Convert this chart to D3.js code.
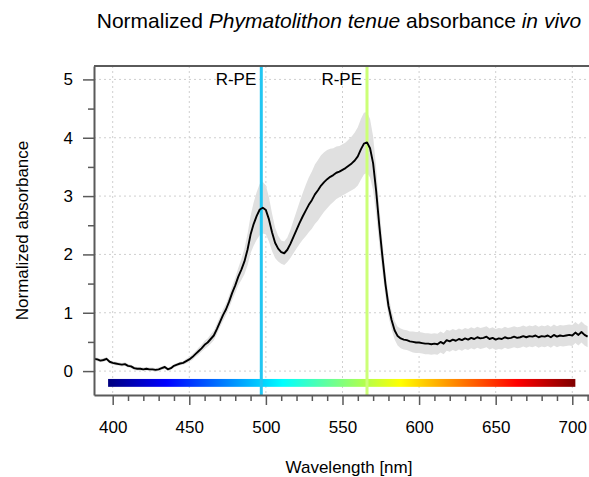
<!DOCTYPE html>
<html><head><meta charset="utf-8">
<script src="https://cdn.jsdelivr.net/npm/d3@7"></script>
<style>
html,body{margin:0;padding:0;background:#fff;}
svg{display:block;font-family:"Liberation Sans",Arial,sans-serif;}
</style></head>
<body><svg id="chart" width="589" height="477"></svg>
<script>
// ---- data ----
const wavelength = [388,390,392,394,396,398,400,402,404,406,408,410,412,414,416,418,420,422,424,426,428,430,432,434,436,438,440,442,444,446,448,450,452,454,456,458,460,462,464,466,468,470,472,474,476,478,480,482,484,486,488,490,492,494,496,498,500,502,504,506,508,510,512,514,516,518,520,522,524,526,528,530,532,534,536,538,540,542,544,546,548,550,552,554,556,558,560,562,564,566,568,570,572,574,576,578,580,582,584,586,588,590,592,594,596,598,600,602,604,606,608,610,612,614,616,618,620,622,624,626,628,630,632,634,636,638,640,642,644,646,648,650,652,654,656,658,660,662,664,666,668,670,672,674,676,678,680,682,684,686,688,690,692,694,696,698,700,702,704,706,708,710];
const absorbance = [0.21,0.20,0.18,0.19,0.21,0.16,0.14,0.13,0.12,0.11,0.12,0.09,0.08,0.05,0.04,0.04,0.03,0.04,0.03,0.03,0.02,0.03,0.05,0.07,0.03,0.05,0.09,0.11,0.13,0.14,0.17,0.20,0.24,0.29,0.34,0.39,0.45,0.49,0.55,0.61,0.72,0.84,0.96,1.06,1.19,1.34,1.47,1.62,1.74,1.88,2.08,2.34,2.52,2.66,2.77,2.80,2.76,2.60,2.38,2.20,2.10,2.04,2.02,2.08,2.18,2.30,2.42,2.54,2.65,2.75,2.85,2.93,3.03,3.10,3.18,3.24,3.29,3.33,3.36,3.40,3.42,3.45,3.48,3.52,3.56,3.61,3.68,3.80,3.90,3.92,3.82,3.56,3.08,2.50,1.98,1.50,1.12,0.88,0.70,0.60,0.56,0.54,0.53,0.51,0.50,0.49,0.49,0.48,0.47,0.47,0.46,0.47,0.46,0.50,0.47,0.53,0.51,0.54,0.52,0.55,0.53,0.56,0.54,0.57,0.55,0.58,0.56,0.57,0.59,0.55,0.57,0.54,0.56,0.55,0.58,0.56,0.57,0.59,0.57,0.58,0.60,0.58,0.60,0.59,0.61,0.58,0.60,0.59,0.61,0.58,0.62,0.59,0.61,0.60,0.61,0.62,0.61,0.66,0.62,0.67,0.62,0.59];
const absorbanceSd = [0.03,0.03,0.03,0.03,0.03,0.03,0.03,0.03,0.03,0.03,0.03,0.03,0.03,0.03,0.03,0.03,0.03,0.03,0.03,0.03,0.03,0.03,0.03,0.03,0.03,0.03,0.03,0.03,0.03,0.03,0.04,0.04,0.05,0.05,0.06,0.06,0.07,0.07,0.08,0.08,0.09,0.09,0.10,0.10,0.11,0.12,0.13,0.15,0.18,0.22,0.27,0.32,0.37,0.41,0.44,0.44,0.42,0.38,0.32,0.26,0.22,0.20,0.20,0.21,0.24,0.28,0.32,0.36,0.40,0.44,0.47,0.49,0.51,0.52,0.52,0.51,0.50,0.48,0.46,0.45,0.44,0.44,0.44,0.45,0.46,0.48,0.50,0.52,0.53,0.52,0.50,0.46,0.40,0.33,0.27,0.22,0.18,0.16,0.16,0.16,0.17,0.17,0.17,0.17,0.18,0.18,0.18,0.18,0.18,0.18,0.18,0.18,0.18,0.18,0.18,0.18,0.18,0.18,0.18,0.18,0.18,0.18,0.18,0.18,0.18,0.18,0.18,0.18,0.18,0.18,0.18,0.18,0.18,0.18,0.18,0.18,0.18,0.18,0.18,0.18,0.18,0.18,0.18,0.18,0.18,0.18,0.18,0.18,0.18,0.18,0.18,0.18,0.18,0.18,0.18,0.18,0.18,0.18,0.18,0.18,0.18,0.18];
const peakWavelengths = [497, 566];
const peakLabels = ["R-PE", "R-PE"];
const peakColors = ["#22c6f2", "#ccff77"];
const xTicks = [400, 450, 500, 550, 600, 650, 700];
const xMinorTicks = [410,420,430,440,460,470,480,490,510,520,530,540,560,570,580,590,610,620,630,640,660,670,680,690,710];
const yTicks = [0, 1, 2, 3, 4, 5];
const yMinorTicks = [0.5, 1.5, 2.5, 3.5, 4.5];
const spectrumStops = [397, 435, 473, 511, 549, 588, 626, 664, 702];
const spectrumColors = ["#00007F", "#0000FF", "#007FFF", "#00FFFF", "#7FFF7F", "#FFFF00", "#FF7F00", "#FF0000", "#7F0000"];

// ---- layout ----
const svg = d3.select("#chart");
const plotL = 94, plotT = 66, plotB = 395, plotR = 604;
const x = d3.scaleLinear().domain([387.8, 720.7]).range([plotL, plotR]);
const y = d3.scaleLinear().domain([-0.41, 5.23]).range([plotB, plotT]);
const axisCol = "#5a5a5a";

svg.append("defs").append("clipPath").attr("id","clip")
  .append("rect").attr("x",plotL).attr("y",plotT).attr("width",plotR-plotL).attr("height",plotB-plotT);

// grid
const grid = svg.append("g").attr("stroke","#cfcfcf").attr("stroke-width",1).attr("stroke-dasharray","2,3");
grid.selectAll("line.v").data(xTicks).join("line").attr("class","v")
  .attr("x1",d=>x(d)).attr("x2",d=>x(d)).attr("y1",plotT).attr("y2",plotB);
grid.selectAll("line.h").data(yTicks).join("line").attr("class","h")
  .attr("x1",plotL).attr("x2",plotR).attr("y1",d=>y(d)).attr("y2",d=>y(d));

const data = wavelength.map((w,i)=>({w, v:absorbance[i], sd:absorbanceSd[i]}));
const g = svg.append("g").attr("clip-path","url(#clip)");

// ribbon
g.append("path").datum(data)
  .attr("fill","#e0e0e0")
  .attr("d", d3.area().x(d=>x(d.w)).y0(d=>y(d.v-d.sd)).y1(d=>y(d.v+d.sd)));

// spectrum bar
const grad = svg.select("defs").append("linearGradient").attr("id","spec")
  .attr("gradientUnits","userSpaceOnUse")
  .attr("x1", x(spectrumStops[0])).attr("x2", x(spectrumStops[spectrumStops.length-1]))
  .attr("y1",0).attr("y2",0);
const s0 = spectrumStops[0], s1 = spectrumStops[spectrumStops.length-1];
grad.selectAll("stop").data(spectrumStops).join("stop")
  .attr("offset",(d)=>(d-s0)/(s1-s0))
  .attr("stop-color",(d,i)=>spectrumColors[i]);
g.append("rect")
  .attr("x", x(s0)).attr("width", x(s1)-x(s0))
  .attr("y", y(-0.135)).attr("height", y(-0.27)-y(-0.135))
  .attr("fill","url(#spec)");

// peak lines
g.selectAll("line.peak").data(peakWavelengths).join("line").attr("class","peak")
  .attr("x1",d=>x(d)).attr("x2",d=>x(d)).attr("y1",plotT).attr("y2",plotB)
  .attr("stroke",(d,i)=>peakColors[i]).attr("stroke-width",3);

// mean line
g.append("path").datum(data)
  .attr("fill","none").attr("stroke","#000").attr("stroke-width",1.9).attr("stroke-linejoin","round")
  .attr("d", d3.line().x(d=>x(d.w)).y(d=>y(d.v)));

// peak labels
svg.selectAll("text.plab").data(peakWavelengths).join("text").attr("class","plab")
  .attr("x",d=>x(d)-5).attr("y",y(5)+6).attr("text-anchor","end")
  .attr("font-size",17).attr("fill","#000").text((d,i)=>peakLabels[i]);

// axes
const xAxis = d3.axisBottom(x).tickValues(xTicks).tickSize(10).tickPadding(16).tickSizeOuter(0).tickFormat(d3.format("d"));
const xa = svg.append("g").attr("transform",`translate(0,${plotB})`).call(xAxis);
const xMinor = d3.axisBottom(x).tickValues(xMinorTicks).tickSize(6).tickFormat("").tickSizeOuter(0);
const xm = svg.append("g").attr("transform",`translate(0,${plotB})`).call(xMinor);
xm.select(".domain").remove();
const yAxis = d3.axisLeft(y).tickValues(yTicks).tickSize(11).tickPadding(10).tickSizeOuter(0).tickFormat(d3.format("d"));
const ya = svg.append("g").attr("transform",`translate(${plotL},0)`).call(yAxis);
const yMinor = d3.axisLeft(y).tickValues(yMinorTicks).tickSize(6).tickFormat("").tickSizeOuter(0);
const ym = svg.append("g").attr("transform",`translate(${plotL},0)`).call(yMinor);
ym.select(".domain").remove();
[xa,ya,xm,ym].forEach(a=>{
  a.selectAll(".domain").attr("stroke",axisCol).attr("stroke-width",2);
  a.selectAll(".tick line").attr("stroke",axisCol).attr("stroke-width",1.5);
  a.selectAll(".tick text").attr("font-size",17).attr("fill","#000").attr("font-family",'"Liberation Sans",Arial,sans-serif');
});
// top border
svg.append("line").attr("x1",plotL).attr("x2",plotR).attr("y1",plotT).attr("y2",plotT)
  .attr("stroke",axisCol).attr("stroke-width",2);

// titles
const title = svg.append("text").attr("x",339).attr("y",28).attr("text-anchor","middle")
  .attr("font-size",21).attr("fill","#000");
title.append("tspan").text("Normalized ");
title.append("tspan").attr("font-style","italic").text("Phymatolithon tenue");
title.append("tspan").text(" absorbance ");
title.append("tspan").attr("font-style","italic").text("in vivo");

svg.append("text").attr("x",(plotL+plotR)/2).attr("y",473).attr("text-anchor","middle")
  .attr("font-size",17).attr("fill","#000").text("Wavelength [nm]");
svg.append("text").attr("transform",`translate(28,${(plotT+plotB)/2}) rotate(-90)`).attr("text-anchor","middle")
  .attr("font-size",17).attr("fill","#000").text("Normalized absorbance");
</script></body></html>
